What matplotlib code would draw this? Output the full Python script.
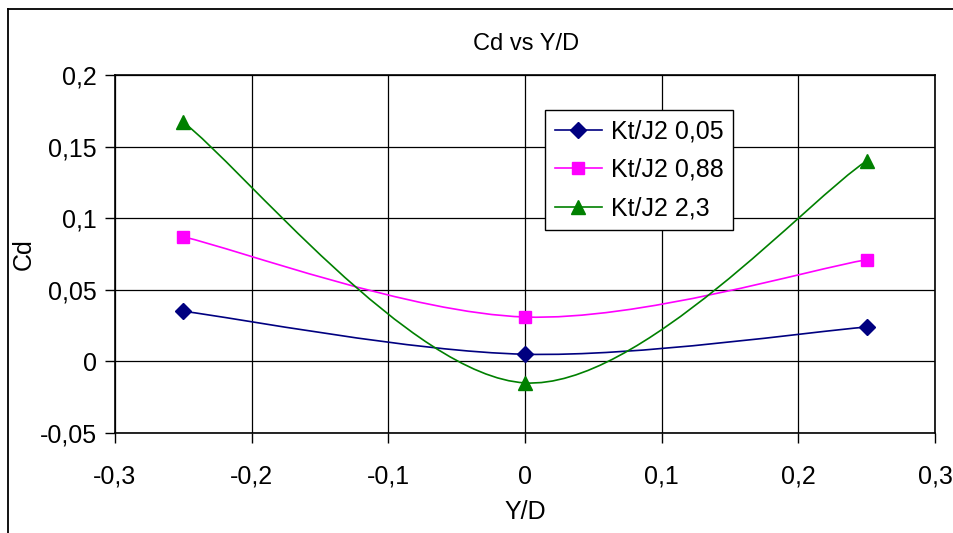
import matplotlib
matplotlib.use("Agg")
import matplotlib.pyplot as plt
from matplotlib.path import Path
from matplotlib.patches import PathPatch
from matplotlib.lines import Line2D

plt.rcParams['font.family'] = ['Liberation Sans', 'DejaVu Sans']

# data
yd = [-0.25, 0.0, 0.25]
cd_005 = [0.035, 0.005, 0.024]
cd_088 = [0.087, 0.031, 0.071]
cd_23 = [0.167, -0.015, 0.140]
labels = ['Kt/J2 0,05', 'Kt/J2 0,88', 'Kt/J2 2,3']
xticks = [-0.3, -0.2, -0.1, 0, 0.1, 0.2, 0.3]
yticks = [-0.05, 0, 0.05, 0.1, 0.15, 0.2]


def comma(v):
    s = ('%g' % v).replace('.', ',')
    return '0' if s in ('-0', '0') else s


def smooth_path(xs, ys):
    # Excel-style smoothed line: cubic bezier segments through the points
    pts = list(zip(xs, ys))
    n = len(pts)
    verts = [pts[0]]
    codes = [Path.MOVETO]
    for i in range(n - 1):
        p0 = pts[i - 1] if i > 0 else pts[i]
        p1 = pts[i]
        p2 = pts[i + 1]
        p3 = pts[i + 2] if i + 2 < n else pts[i + 1]
        c1 = (p1[0] + (p2[0] - p0[0]) / 6, p1[1] + (p2[1] - p0[1]) / 6)
        c2 = (p2[0] - (p3[0] - p1[0]) / 6, p2[1] - (p3[1] - p1[1]) / 6)
        verts += [c1, c2, p2]
        codes += [Path.CURVE4] * 3
    return Path(verts, codes)


fig = plt.figure(figsize=(9.54, 5.33), dpi=100)
ax = fig.add_axes([115 / 954, 100 / 533, 820 / 954, 358 / 533])

series = [(cd_005, '#000080', 'D', 8), (cd_088, '#FF00FF', 's', 8), (cd_23, '#008000', '^', 9.5)]
handles = []
for (vals, col, mk, ms), lab in zip(series, labels):
    ax.add_patch(PathPatch(smooth_path(yd, vals), facecolor='none', edgecolor=col, lw=1.2, zorder=3))
    ax.plot(yd, vals, linestyle='none', marker=mk, color=col, markersize=ms, zorder=4)
    handles.append(Line2D([], [], color=col, lw=1.2, marker=mk, markersize=ms))

ax.set_xlim(-0.3, 0.3)
ax.set_ylim(-0.05, 0.2)
ax.set_xticks(xticks)
ax.set_yticks(yticks)
ax.set_xticklabels([comma(v) for v in xticks])
ax.set_yticklabels([comma(v) for v in yticks])
ax.grid(True, color='black', lw=0.9)
ax.set_axisbelow(True)
for sp in ax.spines.values():
    sp.set_color('black')
    sp.set_linewidth(1.2)
ax.tick_params(axis='both', direction='out', length=7, width=1, labelsize=18, color='black')
ax.tick_params(axis='y', pad=6)
ax.tick_params(axis='x', pad=16)

ax.set_xlabel('Y/D', fontsize=18, labelpad=8)
ax.set_ylabel('Cd', fontsize=18, labelpad=3)
fig.text(526 / 954, 1 - 44 / 533, 'Cd vs Y/D', fontsize=17, ha='center', va='center')

leg = ax.legend(handles, labels, loc='upper left', bbox_to_anchor=(545 / 954, 1 - 110 / 533),
                bbox_transform=fig.transFigure, fontsize=18, frameon=True, fancybox=False,
                framealpha=1, edgecolor='black', borderpad=0.38, handlelength=1.9,
                labelspacing=0.58, handletextpad=0.35, borderaxespad=0)
leg.get_frame().set_linewidth(1.0)

# outer chart frame (cropped screenshot: left and top edges only)
fig.add_artist(Line2D([8 / 954, 8 / 954], [0, 1 - 9 / 533], color='black', lw=1.3, transform=fig.transFigure))
fig.add_artist(Line2D([8 / 954, 1], [1 - 9 / 533, 1 - 9 / 533], color='black', lw=1.3, transform=fig.transFigure))

fig.savefig('out.png', dpi=100)
